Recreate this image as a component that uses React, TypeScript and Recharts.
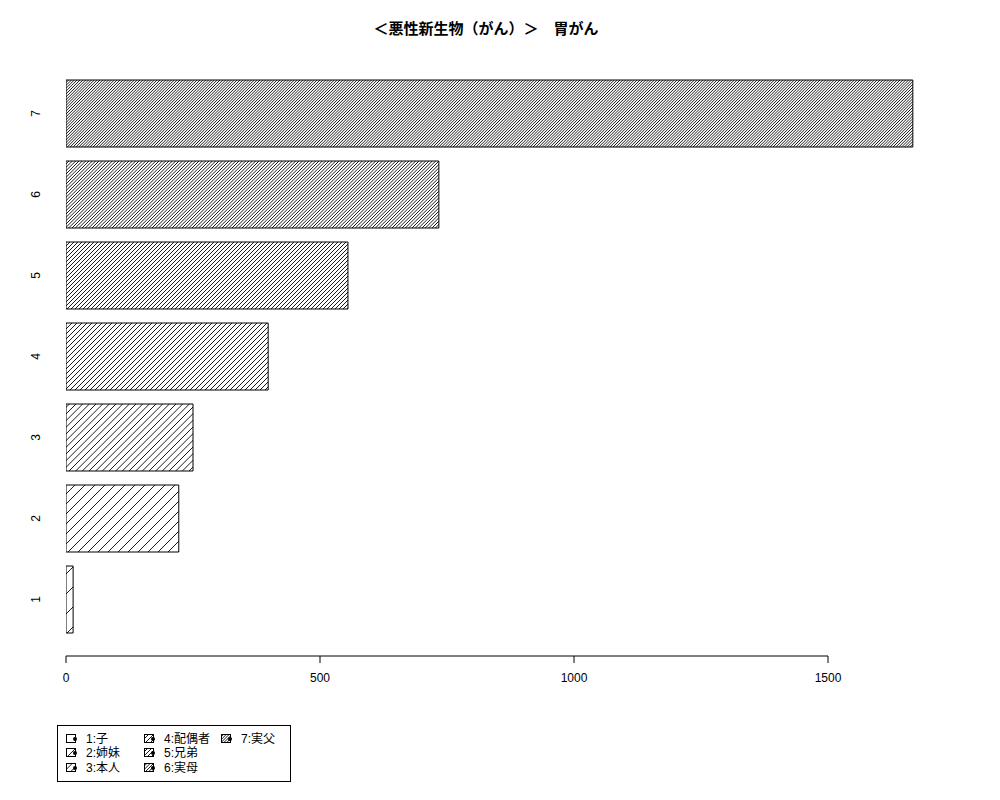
import React from 'react';
import { BarChart, Bar, XAxis, YAxis, Cell } from 'recharts';

const categories = ['1', '2', '3', '4', '5', '6', '7'];
const values = [14, 222, 250, 398, 555, 734, 1667];
const legendLabels = ['1:子', '2:姉妹', '3:本人', '4:配偶者', '5:兄弟', '6:実母', '7:実父'];
const xTicks = [0, 500, 1000, 1500];
const xDomain = [0, 1750];
const title = '＜悪性新生物（がん）＞　胃がん';

const data = categories.map((c, i) => ({ cat: c, value: values[i] }));

const FONT = '"Liberation Sans", Arial, "Noto Sans CJK JP", sans-serif';

const TILE = 20;

// diagonal hatch: (i+1) lines per 20px tile
const hatchPath = (i: number) => {
  const n = i + 1;
  const step = TILE / n;
  let d = '';
  for (let j = 0; j <= 2 * n; j++) {
    const c = j * step;
    d += `M${c + 2},-2 L-2,${c + 2} `;
  }
  return d;
};

const Patterns = ({ prefix }: { prefix: string }) => (
  <defs>
    {categories.map((c, i) => (
      <pattern key={c} id={`${prefix}${i}`} patternUnits="userSpaceOnUse" width={TILE} height={TILE}>
        <rect x={0} y={0} width={TILE} height={TILE} fill="#fff" />
        <path d={hatchPath(i)} stroke="#000" strokeWidth={0.9} fill="none" />
      </pattern>
    ))}
  </defs>
);

const XTick = (props: any) => {
  const { x, y, payload, index, width } = props;
  const w = typeof width === 'number' ? width : 889;
  const step = (w / (xDomain[1] - xDomain[0])) * (xTicks[1] - xTicks[0]);
  const ay = y + 16;
  return (
    <g>
      {index < xTicks.length - 1 && (
        <line x1={x} y1={ay} x2={x + step} y2={ay} stroke="#000" strokeWidth={1} />
      )}
      <line x1={x} y1={ay} x2={x} y2={ay + 7} stroke="#000" strokeWidth={1} />
      <text x={x} y={ay + 26} textAnchor="middle" fontSize={12} fontFamily={FONT} fill="#000">
        {payload.value}
      </text>
    </g>
  );
};

const YTick = (props: any) => {
  const { x, y, payload } = props;
  const tx = x - 26;
  return (
    <text
      x={tx}
      y={y}
      transform={`rotate(-90 ${tx} ${y})`}
      textAnchor="middle"
      fontSize={12}
      fontFamily={FONT}
      fill="#000"
    >
      {payload.value}
    </text>
  );
};

const legendCols = [66, 144, 221];
const legendRows = [739, 753, 768];

export default function App() {
  return (
    <div style={{ position: 'absolute', left: 0, top: 0, width: 1000, height: 800, background: '#fff' }}>
      <div
        style={{
          position: 'absolute',
          left: 0,
          top: 20,
          width: 972,
          textAlign: 'center',
          fontFamily: FONT,
          fontWeight: 'bold',
          fontSize: 15,
          lineHeight: '18px',
          color: '#000',
        }}
      >
        {title}
      </div>
      <BarChart
        width={1000}
        height={800}
        data={data}
        layout="vertical"
        margin={{ top: 73, right: 45, bottom: 100, left: 26 }}
        barCategoryGap={7}
      >
        <Patterns prefix="hatch" />
        <XAxis
          type="number"
          domain={xDomain}
          ticks={xTicks}
          allowDataOverflow
          axisLine={false}
          tickLine={false}
          tickSize={0}
          tickMargin={0}
          height={60}
          tick={<XTick />}
          interval={0}
        />
        <YAxis
          type="category"
          dataKey="cat"
          reversed
          width={40}
          axisLine={false}
          tickLine={false}
          tickSize={0}
          tickMargin={0}
          tick={<YTick />}
          interval={0}
        />
        <Bar dataKey="value" isAnimationActive={false} stroke="#000" strokeWidth={1}>
          {data.map((d, i) => (
            <Cell key={d.cat} fill={`url(#hatch${i})`} />
          ))}
        </Bar>
      </BarChart>
      <div
        style={{
          position: 'absolute',
          left: 57,
          top: 725,
          width: 234,
          height: 57,
          border: '1px solid #000',
          boxSizing: 'border-box',
        }}
      />
      {legendLabels.map((lab, i) => {
        const col = Math.floor(i / 3);
        const row = i % 3;
        const lx = legendCols[col];
        const ly = legendRows[row];
        return (
          <div key={lab}>
            <svg
              style={{ position: 'absolute', left: lx, top: ly - 5 }}
              width={12}
              height={10}
            >
              <Patterns prefix={`lg${i}_`} />
              <rect x={0.5} y={0.5} width={9} height={8} fill={`url(#lg${i}_${i})`} stroke="#000" strokeWidth={1} />
              <circle cx={9} cy={5} r={2} fill="#000" />
            </svg>
            <div
              style={{
                position: 'absolute',
                left: lx + 20,
                top: ly - 8,
                fontFamily: FONT,
                fontSize: 12,
                lineHeight: '16px',
                whiteSpace: 'nowrap',
                color: '#000',
              }}
            >
              {lab}
            </div>
          </div>
        );
      })}
    </div>
  );
}
